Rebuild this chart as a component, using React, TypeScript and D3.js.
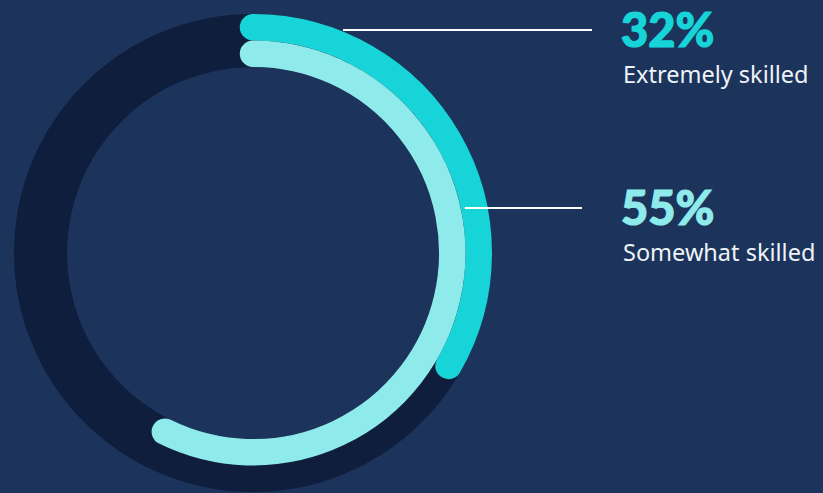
import React from "react";
import * as d3 from "d3";

const categories = ["Extremely skilled", "Somewhat skilled"];
const values = [32, 55];
const valueLabels = ["32%", "55%"];

const W = 823;
const H = 493;
const BG = "#1c335b";
const TRACK = "#0f1e3c";
const COLORS = ["#16d4d8", "#8eeaeb"];

export default function App() {
  const cx = 253;
  const cy = 253;
  const rOuter = 239;
  const band = 26.5;
  // ring radii for each series (outer first)
  const radii = [rOuter - band / 2, rOuter - band - band / 2];
  const angle = d3.scaleLinear().domain([0, 96]).range([0, 2 * Math.PI]);

  const arcPath = (r: number, v: number) => {
    const p = d3.path();
    const a0 = -Math.PI / 2;
    const a1 = a0 + angle(v);
    p.moveTo(cx + r * Math.cos(a0), cy + r * Math.sin(a0));
    p.arc(cx, cy, r, a0, a1, false);
    return p.toString();
  };

  const trackR = rOuter - band;
  const trackW = band * 2;

  // annotations
  const annY = [30, 208];
  const annR = [rOuter + 1.5, rOuter - band + 4];
  const annEnd = [592, 582];
  const textX = 621;

  return (
    <div style={{ position: "fixed", left: 0, top: 0, width: W, height: H, background: BG }}>
      <svg width={W} height={H} style={{ display: "block" }}>
        <rect x={0} y={0} width={W} height={H} fill={BG} />
        <circle cx={cx} cy={cy} r={trackR} fill="none" stroke={TRACK} strokeWidth={trackW} />
        {values.map((v, i) => (
          <path
            key={categories[i]}
            d={arcPath(radii[i], v)}
            fill="none"
            stroke={COLORS[i]}
            strokeWidth={band}
            strokeLinecap="round"
          />
        ))}
        {values.map((v, i) => {
          const dy = cy - annY[i];
          const x0 = cx + Math.sqrt(Math.max(0, annR[i] * annR[i] - dy * dy));
          return (
            <line
              key={"l" + i}
              x1={x0}
              x2={annEnd[i]}
              y1={annY[i]}
              y2={annY[i]}
              stroke="#ffffff"
              strokeWidth={2}
            />
          );
        })}
        {values.map((v, i) => (
          <g key={"t" + i}>
            <text
              x={textX}
              y={annY[i] + 17}
              fill={COLORS[i]}
              stroke={COLORS[i]}
              strokeWidth={1.2}
              fontFamily="Lato, 'Open Sans', sans-serif"
              fontWeight={900}
              fontSize={47}
            >
              {valueLabels[i]}
            </text>
            <text
              x={textX + 2}
              y={annY[i] + 53}
              fill="#eef3f8"
              fontFamily="'Noto Sans', 'Open Sans', sans-serif"
              fontSize={23.5}
            >
              {categories[i]}
            </text>
          </g>
        ))}
      </svg>
    </div>
  );
}
